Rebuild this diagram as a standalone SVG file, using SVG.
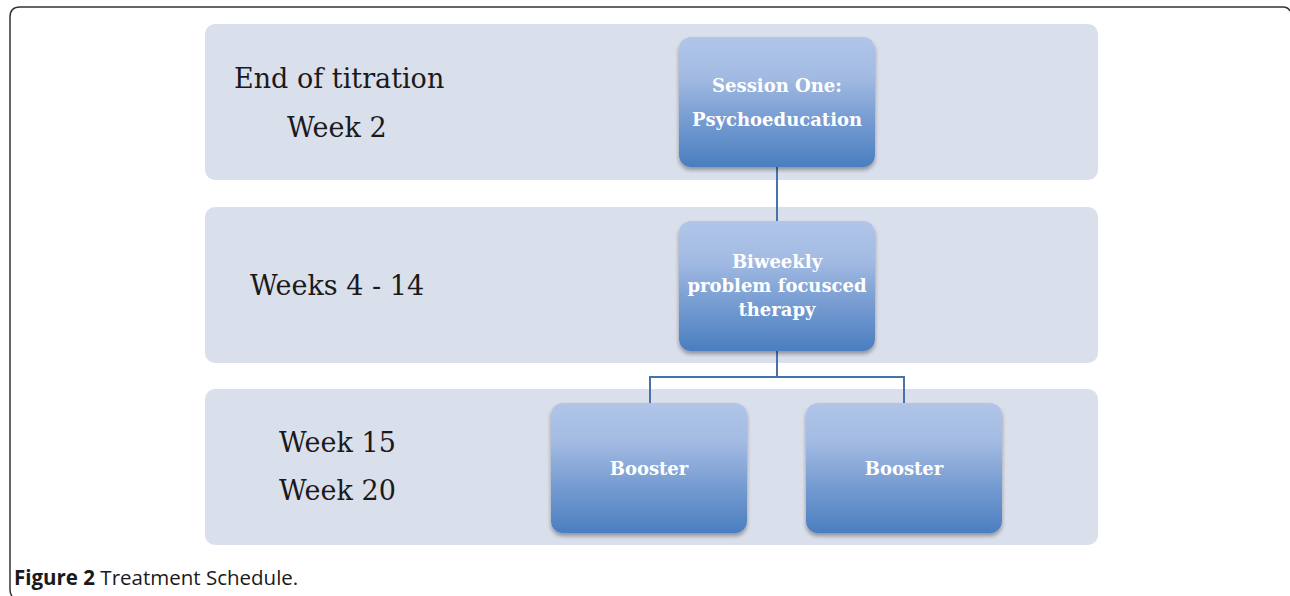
<svg xmlns="http://www.w3.org/2000/svg" width="1290" height="596" viewBox="0 0 1290 596">
  <defs>
    <linearGradient id="g" x1="0" y1="0" x2="0" y2="1">
      <stop offset="0" stop-color="#b0c5e8"/>
      <stop offset="0.3" stop-color="#a3bbe3"/>
      <stop offset="0.6" stop-color="#7b9fd3"/>
      <stop offset="1" stop-color="#4a7ec0"/>
    </linearGradient>
    <filter id="sh" x="-10%" y="-10%" width="120%" height="125%">
      <feGaussianBlur in="SourceAlpha" stdDeviation="2"/>
      <feOffset dx="0" dy="3" result="b"/>
      <feComponentTransfer><feFuncA type="linear" slope="0.35"/></feComponentTransfer>
      <feMerge><feMergeNode/><feMergeNode in="SourceGraphic"/></feMerge>
    </filter>
  </defs>
  <style>
    .band { fill: #dadfec; }
    .node { fill: url(#g); filter: url(#sh); }
    .lbl { font-family: "DejaVu Serif", "Liberation Serif", serif; font-size: 27px; fill: #1a1a1a; }
    .nt { font-family: "DejaVu Serif", "Liberation Serif", serif; font-size: 18px; font-weight: bold; fill: #ffffff; text-anchor: middle; }
    .conn { stroke: #4a72aa; stroke-width: 2; fill: none; }
    .cap { font-family: "Open Sans", "Liberation Sans", sans-serif; font-size: 20.5px; fill: #1a1a1a; }
  </style>
  <path d="M12 596 Q10 594 10 590 V17 Q10 7 20 7 H1283 Q1288 7 1290 11" fill="none" stroke="#333333" stroke-width="1.5"/>
  <g id="bands">
    <rect class="band" x="205" y="24" width="893" height="156" rx="10"/>
    <rect class="band" x="205" y="207" width="893" height="156" rx="10"/>
    <rect class="band" x="205" y="389" width="893" height="156" rx="10"/>
  </g>
  <g id="labels">
    <text class="lbl" x="234" y="88">End of titration</text>
    <text class="lbl" x="287" y="137">Week 2</text>
    <text class="lbl" x="250" y="295">Weeks 4 - 14</text>
    <text class="lbl" x="279" y="452">Week 15</text>
    <text class="lbl" x="279" y="500">Week 20</text>
  </g>
  <g id="connectors">
    <path class="conn" d="M777 167 V221"/>
    <path class="conn" d="M777 351 V377 M649 377 H905 M650 377 V403 M904 377 V403"/>
  </g>
  <g id="n1">
    <rect class="node" x="679" y="37" width="196" height="130" rx="12"/>
    <text class="nt" x="777" y="92">Session One:</text>
    <text class="nt" x="777" y="126">Psychoeducation</text>
  </g>
  <g id="n2">
    <rect class="node" x="679" y="221" width="196" height="130" rx="12"/>
    <text class="nt" x="777" y="268">Biweekly</text>
    <text class="nt" x="777" y="292">problem focusced</text>
    <text class="nt" x="777" y="316">therapy</text>
  </g>
  <g id="n3">
    <rect class="node" x="551" y="403" width="196" height="130" rx="12"/>
    <text class="nt" x="649" y="475">Booster</text>
  </g>
  <g id="n4">
    <rect class="node" x="806" y="403" width="196" height="130" rx="12"/>
    <text class="nt" x="904" y="475">Booster</text>
  </g>
  <text class="cap" x="14" y="585"><tspan font-weight="bold">Figure 2</tspan> Treatment Schedule.</text>
</svg>
